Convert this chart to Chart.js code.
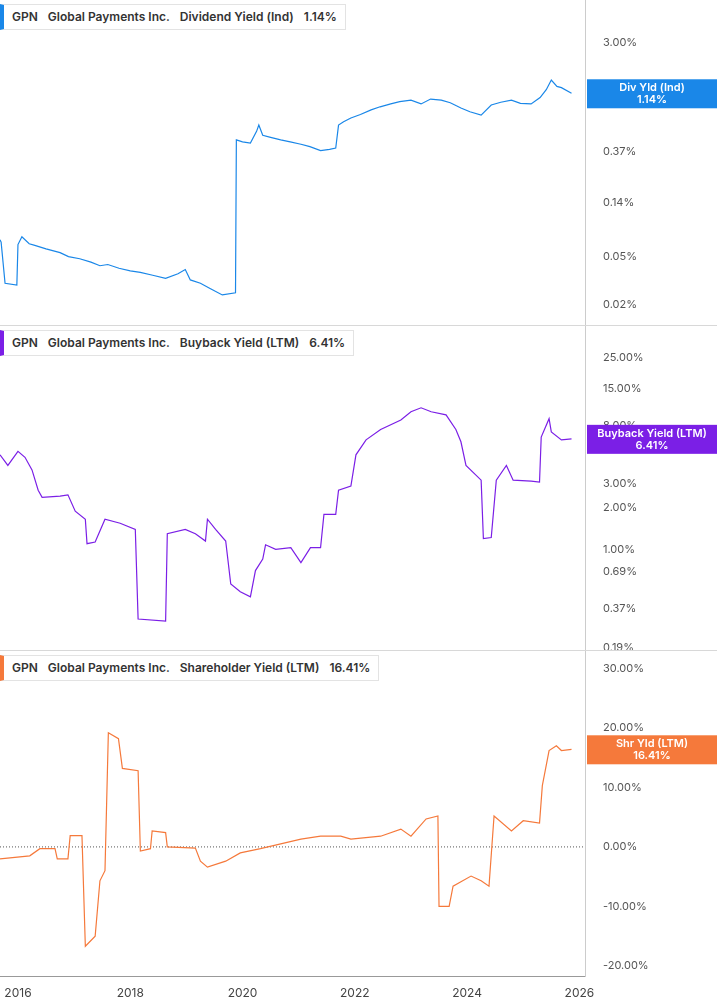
<!DOCTYPE html>
<html>
<head>
<meta charset="utf-8">
<script src="https://cdn.jsdelivr.net/npm/chart.js@4"></script>
<style>
  body { margin: 0; background: #fff; font-family: Inter, "Noto Sans", sans-serif; overflow: hidden; }
  .panel { position: absolute; left: 0; width: 717px; }
  .cv { position: absolute; left: 0; width: 717px; }
  .hdr { position: absolute; left: 0; top: 4px; height: 24px; background: #fff; border: 1px solid #e3e3e3;
         border-left: 4px solid; font-size: 12px; font-weight: 600; color: #333; line-height: 24px; padding: 0 8px; z-index: 2; white-space: nowrap; }
  .hdr span { margin-right: 10px; }
  .sep { position: absolute; left: 0; width: 717px; border-top: 1px solid #d8d8d8; z-index: 3; }
</style>
</head>
<body>
<div class="panel" style="top:0;height:325px"><div class="cv" style="top:-17px;height:359px"><canvas id="c1"></canvas></div><div class="hdr" style="border-left-color:#1a87e8"><span>GPN</span><span>Global Payments Inc.</span><span>Dividend Yield (Ind)</span>1.14%</div></div>
<div class="sep" style="top:325px"></div>
<div class="panel" style="top:326px;height:324px"><div class="cv" style="top:-17px;height:358px"><canvas id="c2"></canvas></div><div class="hdr" style="border-left-color:#7b1fe6"><span>GPN</span><span>Global Payments Inc.</span><span>Buyback Yield (LTM)</span>6.41%</div></div>
<div class="sep" style="top:650px"></div>
<div class="panel" style="top:651px;height:354px"><div class="cv" style="top:-17px;height:369px"><canvas id="c3"></canvas></div><div class="hdr" style="border-left-color:#f5793b"><span>GPN</span><span>Global Payments Inc.</span><span>Shareholder Yield (LTM)</span>16.41%</div></div>
<script>
const divYears = [2015.68,2015.70,2015.77,2015.98,2016.0,2016.07,2016.2,2016.3,2016.5,2016.75,2016.9,2017.1,2017.3,2017.46,2017.6,2017.8,2018.0,2018.18,2018.4,2018.63,2018.85,2018.98,2019.07,2019.25,2019.43,2019.64,2019.875,2019.89,2020.0,2020.14,2020.25,2020.29,2020.36,2020.5,2020.68,2020.85,2021.04,2021.2,2021.39,2021.55,2021.66,2021.71,2021.8,2021.93,2022.1,2022.29,2022.45,2022.64,2022.8,2023.0,2023.18,2023.35,2023.54,2023.7,2023.89,2024.05,2024.25,2024.43,2024.6,2024.79,2024.95,2025.14,2025.3,2025.41,2025.5,2025.6,2025.68,2025.86];
const divVals  = [0.069,0.066,0.030,0.029,0.063,0.073,0.064,0.062,0.058,0.054,0.050,0.048,0.045,0.042,0.043,0.040,0.038,0.037,0.035,0.033,0.036,0.039,0.032,0.030,0.027,0.024,0.025,0.467,0.45,0.44,0.55,0.62,0.51,0.49,0.467,0.45,0.43,0.41,0.38,0.39,0.40,0.62,0.66,0.71,0.76,0.83,0.88,0.93,0.97,1.00,0.93,1.02,1.00,0.95,0.86,0.80,0.75,0.91,0.96,1.00,0.94,0.93,1.05,1.22,1.47,1.30,1.27,1.14];

const bbYears = [2015.68,2015.82,2016.0,2016.125,2016.25,2016.36,2016.43,2016.75,2016.89,2017.02,2017.2,2017.23,2017.375,2017.55,2017.82,2018.09,2018.14,2018.63,2018.66,2018.98,2019.16,2019.34,2019.375,2019.52,2019.7,2019.79,2019.96,2020.14,2020.23,2020.36,2020.41,2020.59,2020.86,2021.04,2021.21,2021.39,2021.45,2021.66,2021.71,2021.93,2022.02,2022.2,2022.46,2022.82,2023.0,2023.18,2023.36,2023.625,2023.8,2023.89,2023.98,2024.25,2024.29,2024.43,2024.52,2024.7,2024.82,2025.14,2025.29,2025.32,2025.46,2025.5,2025.68,2025.86];
const bbVals  = [4.9,4.1,5.2,4.7,3.8,2.7,2.4,2.45,2.5,1.9,1.66,1.1,1.13,1.66,1.55,1.4,0.31,0.30,1.3,1.4,1.3,1.15,1.66,1.4,1.15,0.56,0.49,0.45,0.70,0.85,1.08,1.0,1.03,0.80,1.03,1.03,1.8,1.8,2.7,2.9,4.9,6.3,7.5,8.8,10.1,10.8,10.1,9.6,7.5,6.1,4.1,3.2,1.2,1.22,3.2,4.1,3.2,3.15,3.1,6.6,9.0,7.2,6.3,6.41];

const shYears = [2015.68,2016.21,2016.39,2016.66,2016.70,2016.89,2016.93,2017.14,2017.2,2017.375,2017.46,2017.55,2017.61,2017.79,2017.86,2018.14,2018.18,2018.36,2018.39,2018.63,2018.66,2019.16,2019.25,2019.375,2019.7,2019.96,2020.32,2020.68,2021.04,2021.39,2021.75,2021.93,2022.46,2022.82,2023.0,2023.27,2023.48,2023.5,2023.68,2023.75,2024.07,2024.25,2024.39,2024.48,2024.79,2025.0,2025.29,2025.34,2025.46,2025.59,2025.68,2025.86];
const shVals  = [-2.0,-1.5,-0.3,-0.3,-2.0,-2.0,1.9,1.9,-16.7,-15.0,-5.7,-4.0,19.2,18.2,13.2,12.8,-0.7,-0.3,2.7,2.4,0.0,-0.2,-2.4,-3.4,-2.4,-1.0,-0.3,0.5,1.3,1.8,1.8,1.3,1.8,3.0,1.8,4.7,5.2,-10.0,-10.0,-6.6,-4.9,-5.7,-6.6,5.2,2.7,4.4,4.0,10.3,16.2,17.0,16.2,16.41];

const divTicks = [0.02,0.05,0.14,0.37,1.00,3.00];
const bbTicks = [0.19,0.37,0.69,1.00,2.00,3.00,8.00,15.00,25.00];
const shTicks = [-20,-10,0,10,20,30];
const xTicks = [2016,2018,2020,2022,2024,2026];

const X_MIN = 2015.68, X_MAX = 2026.1;

const lastLabel = {
  id: 'lastLabel',
  afterDraw(chart, args, opts) {
    const ds = chart.data.datasets[0].data;
    const v = ds[ds.length - 1].y;
    const y = chart.scales.y.getPixelForValue(v);
    const ctx = chart.ctx;
    const x0 = chart.chartArea.right + 2;
    ctx.save();
    ctx.fillStyle = opts.color;
    ctx.fillRect(x0, y - 14, chart.width - x0, 29);
    ctx.fillStyle = '#fff';
    ctx.font = '600 11px Inter, sans-serif';
    ctx.textAlign = 'center';
    const cx = x0 + (chart.width - x0) / 2;
    ctx.fillText(opts.title, cx, y - 2);
    ctx.fillText(v.toFixed(2) + '%', cx, y + 10);
    ctx.restore();
  }
};

const zeroLine = {
  id: 'zeroLine',
  beforeDatasetsDraw(chart, args, opts) {
    if (!opts.on) return;
    const y = chart.scales.y.getPixelForValue(0);
    const ctx = chart.ctx;
    ctx.save();
    ctx.strokeStyle = '#555';
    ctx.setLineDash([1, 2]);
    ctx.beginPath();
    ctx.moveTo(chart.chartArea.left, y);
    ctx.lineTo(chart.chartArea.right, y);
    ctx.stroke();
    ctx.restore();
  }
};

function makeChart(id, years, vals, color, title, yOpts, ticks, showX, zero) {
  const pts = years.map((x, i) => ({ x: x, y: vals[i] }));
  return new Chart(document.getElementById(id), {
    type: 'line',
    data: { datasets: [{ data: pts, borderColor: color, borderWidth: 1.2, pointRadius: 0, tension: 0 }] },
    options: {
      responsive: true,
      maintainAspectRatio: false,
      animation: false,
      layout: { padding: 0 },
      plugins: {
        legend: { display: false },
        tooltip: { enabled: false },
        lastLabel: { color: color, title: title },
        zeroLine: { on: zero }
      },
      scales: {
        x: {
          type: 'linear', min: X_MIN, max: X_MAX,
          display: showX,
          grid: { display: false, drawTicks: true },
          border: { color: '#999' },
          afterBuildTicks: s => { s.ticks = xTicks.map(v => ({ value: v })); },
          ticks: { color: '#444', font: { size: 12, family: 'Inter' }, maxRotation: 0, padding: 2, callback: v => String(v) }
        },
        y: Object.assign({
          position: 'right',
          grid: { display: false },
          border: { color: '#ccc' },
          afterFit: s => { s.width = 132; },
          afterBuildTicks: s => { s.ticks = ticks.map(v => ({ value: v })); },
          ticks: { color: '#555', font: { size: 11, family: 'Inter' }, padding: 10, callback: v => Number(v).toFixed(2) + '%' }
        }, yOpts)
      }
    },
    plugins: [lastLabel, zeroLine]
  });
}

makeChart('c1', divYears, divVals, '#1a87e8', 'Div Yld (Ind)', { type: 'logarithmic', min: 0.0134, max: 6.85 }, divTicks, false, false);
makeChart('c2', bbYears, bbVals, '#7b1fe6', 'Buyback Yield (LTM)', { type: 'logarithmic', min: 0.183, max: 43 }, bbTicks, false, false);
makeChart('c3', shYears, shVals, '#f5793b', 'Shr Yld (LTM)', { type: 'linear', min: -21.8, max: 33 }, shTicks, true, true);
</script>
</body>
</html>
